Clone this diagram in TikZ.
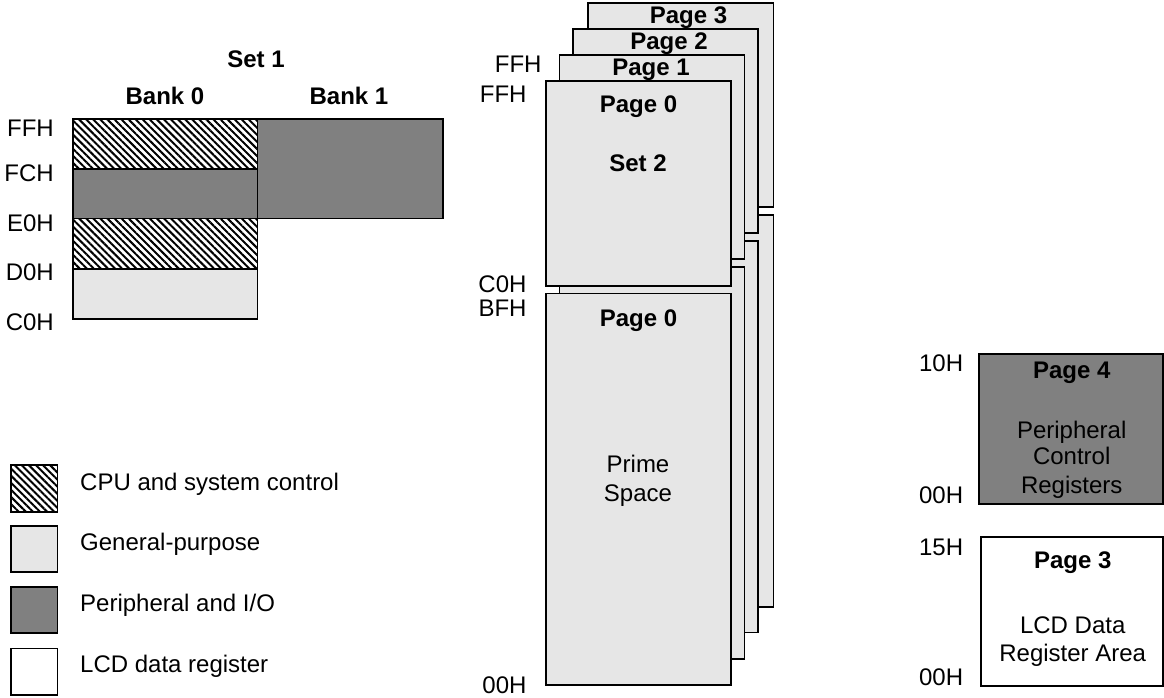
\documentclass[tikz,border=0pt]{standalone}
\usepackage{fontspec}
\setmainfont{Liberation Sans}
\usetikzlibrary{patterns.meta}
\definecolor{lgray}{HTML}{E6E6E6}
\definecolor{dgray}{HTML}{808080}
\begin{document}
\begin{tikzpicture}[x=1pt,y=-1pt,
  every node/.style={font=\fontsize{24}{28}\selectfont, inner sep=0pt},
  lbl/.style={anchor=base east},
  ttl/.style={anchor=base, font=\fontsize{24}{28}\selectfont\bfseries},
  txt/.style={anchor=base},
  leg/.style={anchor=base west},
  box/.style={draw=black, line width=1.6pt},
  light/.style={box, fill=lgray},
  dark/.style={box, fill=dgray},
  plain/.style={box, fill=white},
  hatch/.style={box, preaction={fill=white}, pattern={Lines[angle=-45,distance=5pt,line width=2pt]}}
]
\useasboundingbox (0,0) rectangle (1164,698);

% ---------- Set 1 ----------
\draw[hatch] (72.7,119.3) rectangle (257.3,168.7);
\draw[dark]  (72.7,168.7) rectangle (257.3,218.3);
\draw[hatch] (72.7,218.3) rectangle (257.3,268.7);
\draw[light] (72.7,268.7) rectangle (257.3,318.7);
\draw[dark]  (257.3,119.3) rectangle (442.7,218.3);

\node[ttl] (set1) at (256,67.3) {Set 1};
\node[ttl] (bank0) at (165,105) {Bank 0};
\node[ttl] (bank1) at (349,105) {Bank 1};

\node[lbl] (a1) at (54,136) {FFH};
\node[lbl] (a2) at (54,181.7) {FCH};
\node[lbl] (a3) at (54,231.7) {E0H};
\node[lbl] (a4) at (54,280.7) {D0H};
\node[lbl] (a5) at (54,330) {C0H};

% ---------- Stacked pages ----------
% Page 3
\draw[light] (587.7,3) rectangle (773.3,206.7);
\draw[light] (587.7,215) rectangle (773.3,606.7);
% Page 2
\draw[light] (572.7,29) rectangle (757.7,232.7);
\draw[light] (572.7,240.7) rectangle (757.7,632.3);
% Page 1
\draw[light] (559.3,55) rectangle (744.3,259);
\draw[light] (559.3,266.7) rectangle (744.3,659);
% Page 0
\draw[light] (545.7,81) rectangle (730.7,285.7);
\draw[light] (545.7,293.3) rectangle (730.7,685);

\node[ttl] (p3) at (688.5,23.3) {Page 3};
\node[ttl] (p2) at (669,50) {Page 2};
\node[ttl] (p1) at (651,76) {Page 1};
\node[ttl] (p0u) at (638.5,112.7) {Page 0};
\node[ttl] (set2) at (638,171.7) {Set 2};
\node[ttl] (p0l) at (638.5,326) {Page 0};
\node[txt] (prime) at (638,472.7) {Prime};
\node[txt] (space) at (638,501.7) {Space};

\node[lbl] (b1) at (541.7,72.7) {FFH};
\node[lbl] (b2) at (526.7,102.7) {FFH};
\node[lbl] (b3) at (526.7,292.7) {C0H};
\node[lbl] (b4) at (526.7,316) {BFH};
\node[lbl] (b5) at (526.7,693.3) {00H};

% ---------- Right side ----------
\draw[dark]  (979,354) rectangle (1163,504);
\draw[plain] (981,536.7) rectangle (1163,685.7);

\node[ttl] (p4) at (1071.7,378.3) {Page 4};
\node[txt] (per) at (1071.7,438.3) {Peripheral};
\node[txt] (ctl) at (1071.7,464) {Control};
\node[txt] (reg) at (1071.7,493.3) {Registers};

\node[ttl] (p3r) at (1072.7,568.3) {Page 3};
\node[txt] (lcd) at (1072.7,633.3) {LCD Data};
\node[txt] (rega) at (1072.7,661.7) {Register Area};

\node[lbl] (c1) at (963.3,371.7) {10H};
\node[lbl] (c2) at (963.3,503.3) {00H};
\node[lbl] (c3) at (963.3,555) {15H};
\node[lbl] (c4) at (963.3,685) {00H};

% ---------- Legend ----------
\draw[hatch] (10.7,465) rectangle (57.3,511.7);
\draw[light] (10.7,526) rectangle (57.3,571.7);
\draw[dark]  (10.7,586.7) rectangle (57.3,632.7);
\draw[plain] (10.7,648.3) rectangle (57.3,695);

\node[leg] (l1) at (80,490) {CPU and system control};
\node[leg] (l2) at (80,550) {General-purpose};
\node[leg] (l3) at (80,611.7) {Peripheral and I/O};
\node[leg] (l4) at (80,672.7) {LCD data register};
\end{tikzpicture}
\end{document}
